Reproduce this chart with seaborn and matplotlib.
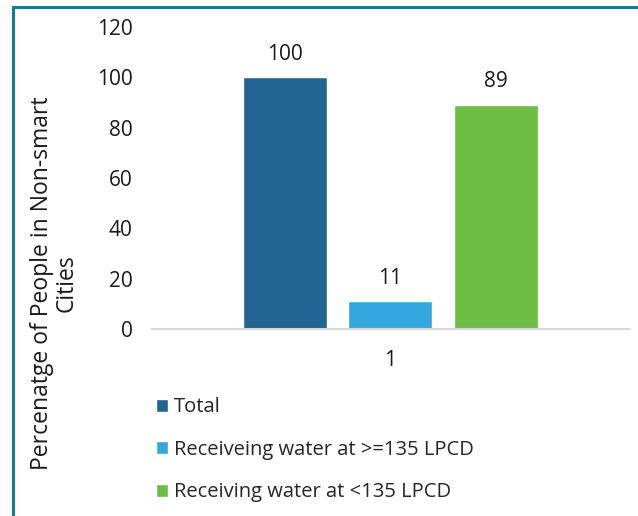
import seaborn as sns
import matplotlib.pyplot as plt
import matplotlib.patches as patches
import pandas as pd

categories = ["1", "1", "1"]
series = ["Total", "Receiveing water at >=135 LPCD", "Receiving water at <135 LPCD"]
values = [100, 11, 89]
colors = ["#236592", "#33a7de", "#6dbd44"]

df = pd.DataFrame({"cat": categories, "series": series, "value": values})

sns.set_style("white")
plt.rcParams['font.family'] = ['Open Sans', 'DejaVu Sans']

fig = plt.figure(figsize=(6.38, 5.16), dpi=100)
ax = fig.add_axes([0.238, 0.362, 0.748, 0.586])

sns.barplot(data=df, x="cat", y="value", hue="series", palette=colors,
            saturation=1, width=0.664, gap=0.204, ax=ax, legend=True)

for c in ax.containers:
    ax.bar_label(c, fmt="%d", padding=9, fontsize=15, color="#1a1a1a")

ax.set_ylim(0, 120)
ax.set_yticks(range(0, 121, 20))
ax.tick_params(axis="both", length=0, labelsize=15, colors="#1a1a1a")
ax.tick_params(axis="x", pad=15)
ax.tick_params(axis="y", pad=14)
ax.set_xlabel("")
ax.set_ylabel("Percenatge of People in Non-smart\nCities", fontsize=16.5, color="#1a1a1a",
              linespacing=1.05)
ax.yaxis.set_label_coords(-0.153, 0.152)
for s in ["top", "right", "left"]:
    ax.spines[s].set_visible(False)
ax.spines["bottom"].set_color("#d9d9d9")
ax.spines["bottom"].set_linewidth(1.5)

handles, labels = ax.get_legend_handles_labels()
ax.legend_.remove()
fig.legend(handles, labels, loc="upper left", bbox_to_anchor=(0.244, 0.230),
           frameon=False, fontsize=14.5, handlelength=0.6, handleheight=0.6,
           handletextpad=0.3, labelspacing=1.12, borderaxespad=0, borderpad=0)

border = patches.Rectangle((0.0204, -0.1), 1.2, 1.086, transform=fig.transFigure,
                           fill=False, edgecolor="#17799b", linewidth=2.2, clip_on=False)
fig.patches.append(border)

fig.savefig("out.png", dpi=100)
